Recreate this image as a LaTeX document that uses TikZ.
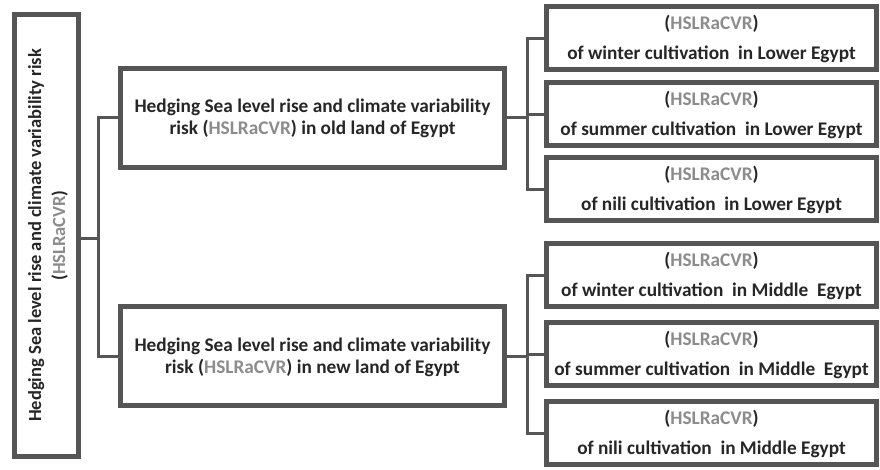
\documentclass[tikz,border=0pt]{standalone}
\usepackage{fontspec}
\setmainfont{Carlito}
\usetikzlibrary{shadows}
\definecolor{bord}{HTML}{555555}
\definecolor{hs}{HTML}{8C8C8C}
\newcommand{\hsl}{\textcolor{hs}{HSLRaCVR}}
\begin{document}
\begin{tikzpicture}[x=1pt,y=-1pt,
  box/.style={draw=bord, line width=5pt, fill=white, rectangle, inner sep=0pt,
    drop shadow={shadow xshift=2pt, shadow yshift=-2.5pt, opacity=0.35}},
  leafbox/.style={box, minimum width=330pt, minimum height=63pt},
  midbox/.style={box, minimum width=384pt, minimum height=99pt},
  txt/.style={align=center, text=black!85, inner sep=0pt},
  conn/.style={draw=bord, line width=3pt}]
\useasboundingbox (0,0) rectangle (880,469);
\node[box, minimum width=64pt, minimum height=442pt] (root) at (46.5,235.5) {};
\node[txt, rotate=90, font=\fontsize{18.5}{24}\selectfont\bfseries] (roottext) at ([xshift=1.5pt]root.center)
  {Hedging Sea level rise and climate variability risk\\(\hsl)};
\node[midbox] (mid1) at (312.5,117.5) {};
\node[txt, font=\fontsize{19.3}{22}\selectfont\bfseries] (mid1t) at ([yshift=-1pt]mid1.center)
  {Hedging Sea level rise and climate variability\\risk (\hsl) in old land of Egypt};
\node[midbox] (mid2) at (312.5,356) {};
\node[txt, font=\fontsize{19.3}{22}\selectfont\bfseries] (mid2t) at ([yshift=-1pt]mid2.center)
  {Hedging Sea level rise and climate variability\\risk (\hsl) in new land of Egypt};
\node[leafbox] (l1) at (711.5,38) {};
\node[leafbox] (l2) at (711.5,114) {};
\node[leafbox] (l3) at (711.5,189) {};
\node[leafbox] (l4) at (711.5,275) {};
\node[leafbox] (l5) at (711.5,354) {};
\node[leafbox] (l6) at (711.5,433) {};
\foreach \n/\t in {l1/of winter cultivation\ \ in Lower Egypt,
                   l2/of summer cultivation\ \ in Lower Egypt,
                   l3/of nili cultivation\ \ in Lower Egypt,
                   l4/of winter cultivation\ \ in Middle\ \ Egypt,
                   l5/of summer cultivation\ \ in Middle\ \ Egypt,
                   l6/of nili cultivation\ \ in Middle Egypt}{
  \node[txt, font=\fontsize{19.3}{29.5}\selectfont\bfseries] (\n t) at ([yshift=-1pt]\n.center) {(\hsl)\\\t};
}
\coordinate (j0) at (98,238);
\coordinate (j1) at (527,117.5);
\coordinate (j2) at (527,356);
\draw[conn] (root.east |- j0) -- (j0);
\draw[conn] (mid1.west) -| (j0) |- (mid2.west);
\draw[conn] (mid1.east) -- (j1);
\draw[conn] (l1.west) -| (j1) |- (l3.west);
\draw[conn] (j1 |- l2.west) -- (l2.west);
\draw[conn] (mid2.east) -- (j2);
\draw[conn] (l4.west) -| (j2) |- (l6.west);
\draw[conn] (j2 |- l5.west) -- (l5.west);
\end{tikzpicture}
\end{document}
